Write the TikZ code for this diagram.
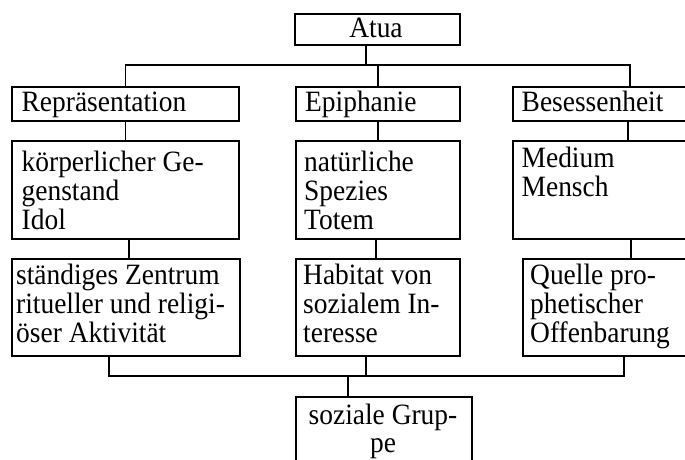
\documentclass[tikz,border=0pt]{standalone}
\usepackage{fontspec}
\setmainfont{Liberation Serif}[FakeStretch=0.93]
\begin{document}
\begin{tikzpicture}[x=1pt,y=-1pt,
  frame/.style={draw, line width=1.8pt, rectangle, inner sep=0pt, anchor=north west},
  link/.style={line width=1.8pt},
  txt/.style={inner sep=0pt, anchor=base west, font=\fontsize{29.5}{29}\selectfont},
  ctxt/.style={inner sep=0pt, anchor=base, font=\fontsize{29.5}{28}\selectfont}]
\clip (0,0) rectangle (685,459);

% boxes
\node[frame, minimum width=165pt, minimum height=31pt] (atua) at (294,13) {};
\node[frame, minimum width=227pt, minimum height=34pt] (rep) at (11,86) {};
\node[frame, minimum width=164pt, minimum height=34pt] (epi) at (295,86) {};
\node[frame, minimum width=234pt, minimum height=34pt] (bes) at (512,86) {};
\node[frame, minimum width=227pt, minimum height=98pt] (koerp) at (11,140) {};
\node[frame, minimum width=164pt, minimum height=98pt] (natur) at (295,140) {};
\node[frame, minimum width=234pt, minimum height=98pt] (medium) at (512,140) {};
\node[frame, minimum width=228pt, minimum height=97pt] (zentrum) at (11,258) {};
\node[frame, minimum width=164pt, minimum height=97pt] (habitat) at (295,258) {};
\node[frame, minimum width=220pt, minimum height=97pt] (quelle) at (522,258) {};
\node[frame, minimum width=176pt, minimum height=75pt] (gruppe) at (295,396) {};

% texts
\node[ctxt] (tatua) at (376,37) {Atua};
\node[txt] (trep) at (21.5,111.5) {Repräsentation};
\node[txt] (tepi) at (305,111.5) {Epiphanie};
\node[txt] (tbes) at (521.5,111.5) {Besessenheit};
\node[txt] (tkoerp) at (21.5,171) {\parbox[t]{215pt}{körperlicher Ge-\\genstand\\Idol}};
\node[txt] (tnatur) at (304,171) {\parbox[t]{150pt}{natürliche\\Spezies\\Totem}};
\node[txt] (tmedium) at (521.5,167) {\parbox[t]{150pt}{Medium\\Mensch}};
\node[txt] (tzentrum) at (16,284) {\parbox[t]{220pt}{ständiges Zentrum\\ritueller und religi-\\öser Aktivität}};
\node[txt] (thabitat) at (303,284) {\parbox[t]{150pt}{Habitat von\\sozialem In-\\teresse}};
\node[txt] (tquelle) at (530,284) {\parbox[t]{150pt}{Quelle pro-\\phetischer\\Offenbarung}};
\node[ctxt] (tgruppe) at (383,424) {\parbox[t]{170pt}{\centering soziale Grup-\\pe}};

% branching bars
\coordinate (topbar) at (0,65);
\coordinate (botbar) at (0,376);

\draw[link] ([xshift=-11.5pt]atua.south) -- ([xshift=-11.5pt]atua.south |- topbar);
\draw[link] (rep.north) |- (bes.north |- topbar) -- (bes.north);
\draw[link] (epi.north) -- (epi.north |- topbar);

\draw[link] (rep.south) -- (rep.south |- koerp.north);
\draw[link] (epi.south) -- (natur.north);
\draw[link] ([xshift=-2pt]bes.south) -- ([xshift=-2pt]bes.south |- medium.north);

\draw[link] ([xshift=3.5pt]koerp.south) -- ([xshift=3.5pt]koerp.south |- zentrum.north);
\draw[link] ([xshift=-2pt]natur.south) -- ([xshift=-2pt]natur.south |- habitat.north);
\draw[link] ([xshift=1pt]medium.south) -- ([xshift=1pt]medium.south |- quelle.north);

\draw[link] ([xshift=-17pt]zentrum.south) |- ([xshift=-9pt]quelle.south |- botbar) -- ([xshift=-9pt]quelle.south);
\draw[link] ([xshift=-12pt]habitat.south) -- ([xshift=-12pt]habitat.south |- botbar);
\draw[link] ([xshift=-36pt]gruppe.north) -- ([xshift=-36pt]gruppe.north |- botbar);
\end{tikzpicture}
\end{document}
